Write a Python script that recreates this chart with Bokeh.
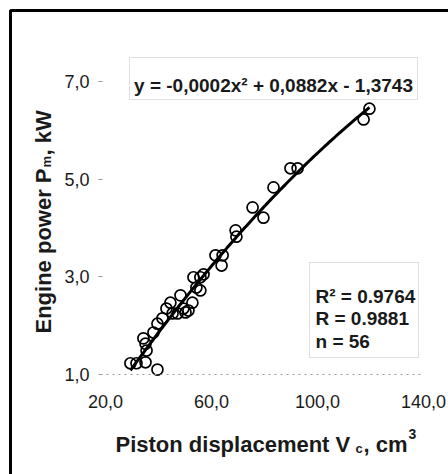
import numpy as np
from bokeh.plotting import figure
from bokeh.models import Label, FixedTicker, Range1d, BoxAnnotation
from bokeh.embed import file_html
from bokeh.resources import INLINE

# ---- data ----
displacement = [29.4, 31.7, 35.1, 39.6, 34.3, 35.1, 35.5, 38.1, 39.6, 41.5,
                45.3, 44.5, 48.3, 49.4, 51.3, 52.8, 53.2, 55.8, 55.8, 54.3,
                61.5, 64.2, 63.8, 69.1, 69.4, 75.5, 79.6, 83.4, 89.8, 92.5,
                117.4, 119.6, 47.2, 50.2, 43.0, 57.0]
power = [1.23, 1.23, 1.25, 1.10, 1.74, 1.63, 1.49, 1.86, 2.04, 2.15,
         2.25, 2.47, 2.62, 2.35, 2.31, 2.47, 2.99, 2.99, 2.72, 2.78,
         3.44, 3.44, 3.23, 3.95, 3.82, 4.42, 4.21, 4.83, 5.22, 5.22,
         6.22, 6.44, 2.25, 2.27, 2.35, 3.05]

x_ticks = [20, 60, 100, 140]
x_tick_labels = ["20,0", "60,0", "100,0", "140,0"]
y_ticks = [1, 3, 5, 7]
y_tick_labels = ["1,0", "3,0", "5,0", "7,0"]

equation_text = "y = -0,0002x\u00b2 + 0,0882x - 1,3743"
stats_lines = ["R\u00b2 = 0.9764", "R = 0.9881", "n = 56"]

# ---- layout: the plotting frame fills the canvas; axes are fixed inside ----
W, H = 452, 474
PL, PR, PT, PB = 105, 423, 32, 374   # pixel positions of x=20, x=140, y=8, y=1
X0, X1, Y0, Y1 = 20, 140, 1, 8

def fx(px):
    return X0 + (px - PL) * (X1 - X0) / (PR - PL)

def fy(py):
    return Y0 + (PB - py) * (Y1 - Y0) / (PB - PT)

p = figure(width=W, height=H, output_backend="svg", toolbar_location=None, tools="",
           x_range=Range1d(fx(0), fx(W)), y_range=Range1d(fy(H), fy(0)),
           min_border=0, min_border_left=0, min_border_right=0,
           min_border_top=0, min_border_bottom=0)
p.outline_line_color = None
p.background_fill_color = "white"
p.border_fill_color = "white"
p.xgrid.visible = False
p.ygrid.visible = False

TXT = "#1a1a1a"
FONT = "Liberation Sans"

# x axis (drawn at y = 1)
xa = p.xaxis[0]
xa.fixed_location = Y0
xa.bounds = (fx(100), X1)
xa.ticker = FixedTicker(ticks=x_ticks)
xa.major_label_overrides = dict(zip(x_ticks, x_tick_labels))
xa.axis_line_color = "#999999"
xa.axis_line_dash = "dotted"
xa.axis_line_width = 1
xa.major_tick_out = 0
xa.major_tick_in = 0
xa.minor_tick_line_color = None
xa.major_label_standoff = 20
xa.major_label_text_font = FONT
xa.major_label_text_font_size = "18px"
xa.major_label_text_color = TXT

# y axis (drawn just left of x = 20)
ya = p.yaxis[0]
ya.fixed_location = fx(102)
ya.bounds = (Y0, Y1)
ya.ticker = FixedTicker(ticks=y_ticks)
ya.major_label_overrides = dict(zip(y_ticks, y_tick_labels))
ya.axis_line_color = None
ya.major_tick_out = 4
ya.major_tick_in = 0
ya.major_tick_line_color = "#999999"
ya.minor_tick_line_color = None
ya.major_label_standoff = 9
ya.major_label_text_font = FONT
ya.major_label_text_font_size = "18px"
ya.major_label_text_color = TXT

# outer frame (left and top edges only; cropped at right and bottom like the scan)
p.line(x=[fx(10), fx(10), fx(W)], y=[fy(H), fy(10), fy(10)],
       line_color="black", line_width=3)

# trend line (quadratic least squares on the data)
coef = np.polyfit(displacement, power, 2)
xs = np.linspace(min(displacement), max(displacement), 120)
p.line(xs, np.polyval(coef, xs), line_color="black", line_width=3)

# points
p.scatter(displacement, power, marker="circle", size=11, fill_color=None,
          line_color="black", line_width=1.7)

# equation box
p.add_layout(BoxAnnotation(left=fx(129), right=fx(417), top=fy(57), bottom=fy(99),
                           fill_color="white", fill_alpha=1,
                           line_color="#999999", line_width=1))
p.add_layout(Label(x=fx(273), y=fy(85), text=equation_text, text_align="center",
                   text_baseline="alphabetic", text_font=FONT, text_font_style="bold",
                   text_font_size="19px", text_color=TXT))

# stats box
p.add_layout(BoxAnnotation(left=fx(309), right=fx(418), top=fy(262), bottom=fy(357),
                           fill_color="white", fill_alpha=1,
                           line_color="#999999", line_width=1))
for line, base in zip(stats_lines, [296, 318, 341]):
    p.add_layout(Label(x=fx(315), y=fy(base), text=line, text_align="left",
                       text_baseline="alphabetic", text_font=FONT,
                       text_font_style="bold", text_font_size="19px", text_color=TXT))

def lab(px, py, text, size, angle=0.0):
    p.add_layout(Label(x=fx(px), y=fy(py), text=text, angle=angle,
                       text_align="left", text_baseline="alphabetic",
                       text_font=FONT, text_font_style="bold",
                       text_font_size=size, text_color=TXT))

# x axis title: "Piston displacement V_c, cm^3"
lab(115, 444, "Piston displacement V", "22px")
lab(355, 448, "c", "13px")
lab(363, 444, ", cm", "22px")
lab(408, 433, "3", "14px")

# y axis title: "Engine power P_m, kW" (rotated)
a = np.pi / 2
lab(43, 333, "Engine power P", "22px", a)
lab(46, 167, "m", "13px", a)
lab(43, 155, ", kW", "22px", a)

open("out.html", "w").write(file_html(p, INLINE))
